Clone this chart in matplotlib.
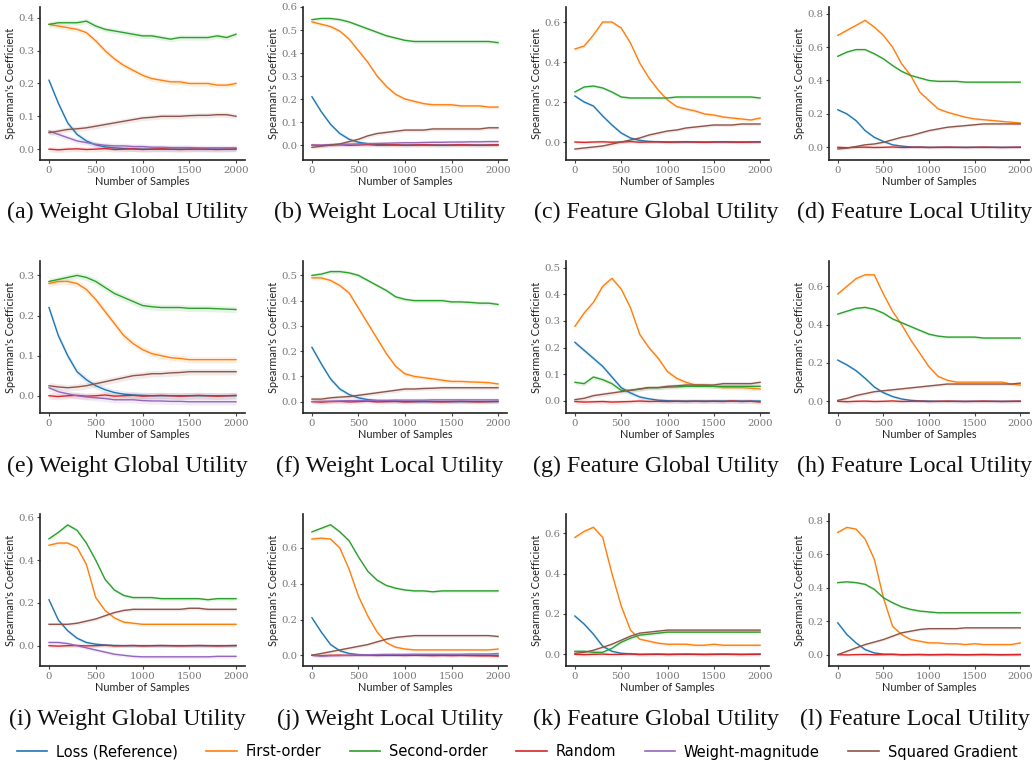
import numpy as np
import matplotlib
matplotlib.use("Agg")
import matplotlib.pyplot as plt
from matplotlib.ticker import MultipleLocator, FormatStrFormatter
from matplotlib.lines import Line2D

# ---------------- data (x = 0, 100, ..., 2000) ----------------
samples = list(range(0, 2001, 100))

series_names = ["Loss (Reference)", "First-order", "Second-order", "Random",
                "Weight-magnitude", "Squared Gradient"]
series_colors = ["#1f77b4", "#ff7f0e", "#2ca02c", "#d62728", "#9467bd", "#8c564b"]

captions = ["(a) Weight Global Utility", "(b) Weight Local Utility",
            "(c) Feature Global Utility", "(d) Feature Local Utility",
            "(e) Weight Global Utility", "(f) Weight Local Utility",
            "(g) Feature Global Utility", "(h) Feature Local Utility",
            "(i) Weight Global Utility", "(j) Weight Local Utility",
            "(k) Feature Global Utility", "(l) Feature Local Utility"]

rand_flat = [0.0, -0.002, 0.0, 0.001, -0.001, 0.0, 0.002, -0.001, 0.0, 0.001, -0.001,
             0.0, 0.001, 0.0, -0.001, 0.0, 0.001, 0.0, -0.001, 0.0, 0.001]

# (a)
a_loss = [0.21, 0.14, 0.08, 0.045, 0.025, 0.013, 0.007, 0.004, 0.002, 0.001, 0, 0, 0, 0, 0, 0, 0, 0, 0, 0, 0]
a_first = [0.38, 0.375, 0.37, 0.365, 0.355, 0.33, 0.30, 0.275, 0.255, 0.24, 0.225, 0.215, 0.21, 0.205, 0.205, 0.20, 0.20, 0.20, 0.195, 0.195, 0.20]
a_second = [0.38, 0.385, 0.385, 0.385, 0.39, 0.375, 0.365, 0.36, 0.355, 0.35, 0.345, 0.345, 0.34, 0.335, 0.34, 0.34, 0.34, 0.34, 0.345, 0.34, 0.35]
a_random = rand_flat
a_weight = [0.055, 0.045, 0.035, 0.025, 0.02, 0.015, 0.012, 0.01, 0.01, 0.008, 0.008, 0.006, 0.006, 0.005, 0.005, 0.005, 0.004, 0.004, 0.004, 0.004, 0.004]
a_sqgrad = [0.05, 0.055, 0.06, 0.062, 0.065, 0.07, 0.075, 0.08, 0.085, 0.09, 0.095, 0.097, 0.10, 0.10, 0.10, 0.102, 0.103, 0.103, 0.105, 0.105, 0.10]

# (b)
b_loss = [0.21, 0.145, 0.09, 0.05, 0.025, 0.012, 0.006, 0.003, 0.001, 0, 0, 0, 0, 0, 0, 0, 0, 0, 0, 0, 0]
b_first = [0.535, 0.525, 0.515, 0.495, 0.46, 0.41, 0.36, 0.30, 0.255, 0.22, 0.20, 0.19, 0.18, 0.175, 0.175, 0.175, 0.17, 0.17, 0.17, 0.165, 0.165]
b_second = [0.545, 0.55, 0.55, 0.545, 0.535, 0.52, 0.505, 0.49, 0.475, 0.465, 0.455, 0.45, 0.45, 0.45, 0.45, 0.45, 0.45, 0.45, 0.45, 0.45, 0.445]
b_random = rand_flat
b_weight = [0.0, 0.0, 0.002, 0.003, 0.004, 0.005, 0.006, 0.007, 0.008, 0.009, 0.01, 0.01, 0.011, 0.012, 0.012, 0.013, 0.013, 0.014, 0.014, 0.015, 0.015]
b_sqgrad = [-0.01, -0.005, 0.0, 0.005, 0.015, 0.025, 0.04, 0.05, 0.055, 0.06, 0.065, 0.065, 0.065, 0.07, 0.07, 0.07, 0.07, 0.07, 0.07, 0.075, 0.075]

# (c)
c_loss = [0.23, 0.20, 0.18, 0.13, 0.085, 0.045, 0.02, 0.008, 0.003, 0.001, 0, 0, 0, 0, 0, 0, 0, 0, 0, 0, 0]
c_first = [0.465, 0.48, 0.535, 0.60, 0.60, 0.57, 0.495, 0.395, 0.32, 0.26, 0.21, 0.177, 0.165, 0.155, 0.14, 0.135, 0.125, 0.12, 0.115, 0.11, 0.12]
c_second = [0.25, 0.275, 0.28, 0.27, 0.25, 0.225, 0.22, 0.22, 0.22, 0.22, 0.22, 0.225, 0.225, 0.225, 0.225, 0.225, 0.225, 0.225, 0.225, 0.225, 0.22]
c_random = rand_flat
c_weight = None
c_sqgrad = [-0.035, -0.03, -0.025, -0.02, -0.01, 0.0, 0.01, 0.02, 0.035, 0.045, 0.055, 0.06, 0.07, 0.075, 0.08, 0.085, 0.085, 0.085, 0.09, 0.09, 0.09]

# (d)
d_loss = [0.225, 0.20, 0.16, 0.10, 0.06, 0.035, 0.015, 0.007, 0.002, 0.001, 0, 0, 0, 0, 0, 0, 0, 0, 0, 0, 0]
d_first = [0.67, 0.70, 0.73, 0.76, 0.72, 0.67, 0.60, 0.50, 0.43, 0.33, 0.28, 0.23, 0.21, 0.195, 0.18, 0.17, 0.165, 0.16, 0.155, 0.15, 0.145]
d_second = [0.545, 0.57, 0.585, 0.585, 0.56, 0.53, 0.49, 0.455, 0.43, 0.415, 0.40, 0.395, 0.395, 0.395, 0.39, 0.39, 0.39, 0.39, 0.39, 0.39, 0.39]
d_random = rand_flat
d_weight = None
d_sqgrad = [-0.01, -0.005, 0.005, 0.015, 0.02, 0.03, 0.045, 0.06, 0.07, 0.085, 0.10, 0.11, 0.12, 0.125, 0.13, 0.135, 0.14, 0.14, 0.14, 0.14, 0.14]

# (e)
e_loss = [0.22, 0.15, 0.10, 0.06, 0.04, 0.025, 0.015, 0.008, 0.004, 0.002, 0.001, 0, 0, 0, 0, 0, 0, 0, 0, 0, 0]
e_first = [0.28, 0.285, 0.285, 0.28, 0.265, 0.24, 0.21, 0.18, 0.15, 0.13, 0.115, 0.105, 0.10, 0.095, 0.093, 0.09, 0.09, 0.09, 0.09, 0.09, 0.09]
e_second = [0.285, 0.29, 0.295, 0.30, 0.295, 0.285, 0.27, 0.255, 0.245, 0.235, 0.225, 0.222, 0.22, 0.22, 0.22, 0.218, 0.218, 0.218, 0.217, 0.216, 0.215]
e_random = rand_flat
e_weight = [0.02, 0.01, 0.005, 0.0, -0.003, -0.005, -0.007, -0.01, -0.01, -0.01, -0.012, -0.013, -0.013, -0.014, -0.014, -0.015, -0.015, -0.015, -0.015, -0.015, -0.015]
e_sqgrad = [0.025, 0.022, 0.02, 0.022, 0.025, 0.03, 0.035, 0.04, 0.045, 0.05, 0.052, 0.055, 0.055, 0.057, 0.058, 0.06, 0.06, 0.06, 0.06, 0.06, 0.06]

# (f)
f_loss = [0.215, 0.15, 0.09, 0.05, 0.028, 0.015, 0.008, 0.004, 0.002, 0.001, 0, 0, 0, 0, 0, 0, 0, 0, 0, 0, 0]
f_first = [0.49, 0.49, 0.48, 0.46, 0.43, 0.37, 0.31, 0.25, 0.19, 0.14, 0.11, 0.10, 0.095, 0.09, 0.085, 0.08, 0.08, 0.078, 0.077, 0.075, 0.07]
f_second = [0.50, 0.505, 0.515, 0.515, 0.51, 0.50, 0.48, 0.46, 0.44, 0.415, 0.405, 0.40, 0.40, 0.40, 0.40, 0.395, 0.395, 0.393, 0.39, 0.39, 0.385]
f_random = rand_flat
f_weight = [0.0, 0.001, 0.002, 0.003, 0.004, 0.004, 0.005, 0.005, 0.005, 0.006, 0.006, 0.006, 0.006, 0.007, 0.007, 0.007, 0.007, 0.007, 0.007, 0.007, 0.007]
f_sqgrad = [0.01, 0.01, 0.015, 0.018, 0.02, 0.025, 0.03, 0.035, 0.04, 0.045, 0.05, 0.05, 0.052, 0.053, 0.055, 0.055, 0.055, 0.055, 0.055, 0.055, 0.055]

# (g)
g_loss = [0.22, 0.19, 0.16, 0.13, 0.09, 0.05, 0.03, 0.015, 0.008, 0.003, 0.001, 0, 0, 0, 0, 0, 0, 0, 0, 0, 0]
g_first = [0.28, 0.33, 0.37, 0.43, 0.46, 0.42, 0.35, 0.25, 0.20, 0.16, 0.11, 0.085, 0.07, 0.06, 0.06, 0.055, 0.05, 0.05, 0.05, 0.048, 0.045]
g_second = [0.07, 0.065, 0.09, 0.08, 0.065, 0.04, 0.04, 0.045, 0.05, 0.05, 0.052, 0.053, 0.055, 0.055, 0.055, 0.055, 0.055, 0.055, 0.055, 0.055, 0.055]
g_random = [-0.002, -0.004, -0.003, -0.002, -0.004, -0.003, -0.002, 0.0, -0.002, -0.001, -0.002, -0.001, -0.002, -0.001, -0.002, -0.001, -0.002, 0.0, -0.002, -0.001, -0.004]
g_weight = None
g_sqgrad = [0.005, 0.01, 0.02, 0.025, 0.03, 0.035, 0.04, 0.045, 0.05, 0.05, 0.055, 0.057, 0.06, 0.06, 0.06, 0.06, 0.065, 0.065, 0.065, 0.065, 0.07]

# (h)
h_loss = [0.215, 0.19, 0.16, 0.12, 0.075, 0.045, 0.025, 0.012, 0.005, 0.002, 0.001, 0, 0, 0, 0, 0, 0, 0, 0, 0, 0]
h_first = [0.56, 0.60, 0.64, 0.66, 0.66, 0.56, 0.47, 0.40, 0.32, 0.25, 0.18, 0.13, 0.11, 0.10, 0.10, 0.10, 0.10, 0.10, 0.10, 0.09, 0.085]
h_second = [0.455, 0.47, 0.485, 0.49, 0.48, 0.46, 0.43, 0.41, 0.39, 0.37, 0.35, 0.34, 0.335, 0.335, 0.335, 0.335, 0.33, 0.33, 0.33, 0.33, 0.33]
h_random = rand_flat
h_weight = None
h_sqgrad = [0.005, 0.015, 0.03, 0.04, 0.05, 0.055, 0.06, 0.065, 0.07, 0.075, 0.08, 0.085, 0.09, 0.09, 0.09, 0.09, 0.09, 0.09, 0.09, 0.09, 0.095]

# (i)
i_loss = [0.215, 0.12, 0.07, 0.035, 0.015, 0.007, 0.003, 0.001, 0, 0, 0, 0, 0, 0, 0, 0, 0, 0, 0, 0, 0]
i_first = [0.47, 0.48, 0.48, 0.46, 0.38, 0.225, 0.165, 0.13, 0.11, 0.105, 0.10, 0.10, 0.10, 0.10, 0.10, 0.10, 0.10, 0.10, 0.10, 0.10, 0.10]
i_second = [0.50, 0.53, 0.565, 0.54, 0.48, 0.40, 0.31, 0.26, 0.235, 0.225, 0.225, 0.225, 0.22, 0.22, 0.22, 0.22, 0.22, 0.215, 0.22, 0.22, 0.22]
i_random = rand_flat
i_weight = [0.015, 0.015, 0.01, 0.0, -0.01, -0.02, -0.03, -0.04, -0.045, -0.05, -0.052, -0.052, -0.052, -0.052, -0.052, -0.052, -0.052, -0.052, -0.05, -0.05, -0.05]
i_sqgrad = [0.10, 0.10, 0.10, 0.105, 0.115, 0.125, 0.14, 0.155, 0.165, 0.17, 0.17, 0.17, 0.17, 0.17, 0.17, 0.175, 0.175, 0.17, 0.17, 0.17, 0.17]

# (j)
j_loss = [0.21, 0.13, 0.06, 0.025, 0.01, 0.004, 0.002, 0.001, 0, 0, 0, 0, 0, 0, 0, 0, 0, 0, 0, 0, 0]
j_first = [0.65, 0.655, 0.65, 0.60, 0.48, 0.33, 0.22, 0.13, 0.07, 0.045, 0.035, 0.03, 0.03, 0.03, 0.03, 0.03, 0.03, 0.03, 0.03, 0.03, 0.035]
j_second = [0.69, 0.71, 0.73, 0.69, 0.64, 0.55, 0.47, 0.42, 0.39, 0.375, 0.365, 0.36, 0.36, 0.355, 0.36, 0.36, 0.36, 0.36, 0.36, 0.36, 0.36]
j_random = [0.0, -0.002, 0.0, 0.001, -0.001, 0.0, 0.001, -0.001, 0.0, 0.0, -0.001, 0.0, -0.001, -0.002, -0.001, -0.002, -0.001, -0.002, -0.003, -0.003, -0.005]
j_weight = [0.0, -0.005, -0.003, -0.002, 0.0, 0.002, 0.003, 0.004, 0.005, 0.005, 0.005, 0.006, 0.006, 0.006, 0.006, 0.006, 0.006, 0.007, 0.007, 0.007, 0.01]
j_sqgrad = [0.0, 0.01, 0.02, 0.03, 0.04, 0.05, 0.06, 0.075, 0.09, 0.10, 0.105, 0.11, 0.11, 0.11, 0.11, 0.11, 0.11, 0.11, 0.11, 0.11, 0.105]

# (k)
k_loss = [0.19, 0.15, 0.10, 0.04, 0.015, 0.005, 0.002, 0, 0, 0, 0, 0, 0, 0, 0, 0, 0, 0, 0, 0, 0]
k_first = [0.58, 0.61, 0.63, 0.58, 0.40, 0.24, 0.12, 0.075, 0.065, 0.055, 0.05, 0.05, 0.05, 0.045, 0.045, 0.05, 0.045, 0.045, 0.045, 0.045, 0.045]
k_second = [0.015, 0.015, 0.01, 0.01, 0.03, 0.06, 0.08, 0.095, 0.10, 0.105, 0.11, 0.11, 0.11, 0.11, 0.11, 0.11, 0.11, 0.11, 0.11, 0.11, 0.11]
k_random = rand_flat
k_weight = None
k_sqgrad = [0.005, 0.01, 0.02, 0.035, 0.05, 0.07, 0.09, 0.105, 0.11, 0.115, 0.12, 0.12, 0.12, 0.12, 0.12, 0.12, 0.12, 0.12, 0.12, 0.12, 0.12]

# (l)
l_loss = [0.19, 0.12, 0.07, 0.03, 0.01, 0.003, 0.001, 0, 0, 0, 0, 0, 0, 0, 0, 0, 0, 0, 0, 0, 0]
l_first = [0.73, 0.76, 0.75, 0.69, 0.57, 0.34, 0.17, 0.12, 0.09, 0.08, 0.07, 0.07, 0.065, 0.065, 0.06, 0.065, 0.06, 0.06, 0.06, 0.06, 0.07]
l_second = [0.43, 0.435, 0.43, 0.42, 0.39, 0.34, 0.31, 0.285, 0.27, 0.26, 0.255, 0.25, 0.25, 0.25, 0.25, 0.25, 0.25, 0.25, 0.25, 0.25, 0.25]
l_random = rand_flat
l_weight = None
l_sqgrad = [0.0, 0.02, 0.04, 0.06, 0.075, 0.09, 0.11, 0.13, 0.14, 0.15, 0.155, 0.155, 0.155, 0.155, 0.16, 0.16, 0.16, 0.16, 0.16, 0.16, 0.16]

panel_series = [
    [a_loss, a_first, a_second, a_random, a_weight, a_sqgrad],
    [b_loss, b_first, b_second, b_random, b_weight, b_sqgrad],
    [c_loss, c_first, c_second, c_random, c_weight, c_sqgrad],
    [d_loss, d_first, d_second, d_random, d_weight, d_sqgrad],
    [e_loss, e_first, e_second, e_random, e_weight, e_sqgrad],
    [f_loss, f_first, f_second, f_random, f_weight, f_sqgrad],
    [g_loss, g_first, g_second, g_random, g_weight, g_sqgrad],
    [h_loss, h_first, h_second, h_random, h_weight, h_sqgrad],
    [i_loss, i_first, i_second, i_random, i_weight, i_sqgrad],
    [j_loss, j_first, j_second, j_random, j_weight, j_sqgrad],
    [k_loss, k_first, k_second, k_random, k_weight, k_sqgrad],
    [l_loss, l_first, l_second, l_random, l_weight, l_sqgrad],
]

# ---------------- layout / style ----------------
ylims = [(-0.033, 0.433), (-0.065, 0.60), (-0.09, 0.675), (-0.076, 0.84),
         (-0.043, 0.336), (-0.045, 0.557), (-0.045, 0.525), (-0.061, 0.732),
         (-0.095, 0.616), (-0.06, 0.79), (-0.058, 0.696), (-0.068, 0.84)]
ysteps = [0.1, 0.1, 0.2, 0.2, 0.1, 0.1, 0.1, 0.2, 0.2, 0.2, 0.2, 0.2]

W, H = 1034, 762
col_lr = [(40, 245), (303, 507), (566, 769), (829, 1029)]
row_tb = [(7, 160), (261, 413), (514, 666)]
cap_x = [127, 390, 656, 915]
cap_y = [212, 466, 719]

fig = plt.figure(figsize=(W / 100, H / 100), dpi=100)
fig.patch.set_facecolor("white")

x = np.array(samples)
for idx, series in enumerate(panel_series):
    r, c = divmod(idx, 4)
    l, rgt = col_lr[c]
    t, b = row_tb[r]
    ax = fig.add_axes([l / W, 1 - b / H, (rgt - l) / W, (b - t) / H])
    for name, color, vals in zip(series_names, series_colors, series):
        if vals is None:
            continue
        y = np.array(vals, dtype=float)
        ax.fill_between(x, y - 0.008, y + 0.008, color=color, alpha=0.12, lw=0)
        ax.plot(x, y, color=color, lw=1.0)
    ax.set_xlim(-96, 2096)
    ax.set_ylim(*ylims[idx])
    ax.xaxis.set_major_locator(MultipleLocator(500))
    ax.yaxis.set_major_locator(MultipleLocator(ysteps[idx]))
    ax.yaxis.set_major_formatter(FormatStrFormatter("%.1f"))
    for side in ["top", "right"]:
        ax.spines[side].set_visible(False)
    for side in ["left", "bottom"]:
        ax.spines[side].set_linewidth(1.2)
        ax.spines[side].set_color("#222222")
    ax.tick_params(axis="both", length=2.5, width=0.8, color="#444444",
                   labelsize=7.3, labelcolor="#777777", pad=1.5)
    for lab in ax.get_xticklabels() + ax.get_yticklabels():
        lab.set_fontfamily("DejaVu Serif")
    ax.set_xlabel("Number of Samples", fontsize=7.8, family="Lato", color="#222222", labelpad=1)
    ax.set_ylabel("Spearman's Coefficient", fontsize=7.8, family="Lato", color="#222222", labelpad=2)
    fig.text(cap_x[c] / W, 1 - cap_y[r] / H, captions[idx], ha="center", va="center",
             fontsize=17.3, family="Liberation Serif", color="#111111")

handles = [Line2D([], [], color=col, lw=1.2) for col in series_colors]
fig.legend(handles, series_names, loc="center", bbox_to_anchor=(0.5, 1 - 752 / H),
           ncol=6, frameon=False, handlelength=2.1, columnspacing=1.95,
           handletextpad=0.6, prop={"family": "DejaVu Sans", "size": 10.5})

fig.savefig("out.png", dpi=100)
